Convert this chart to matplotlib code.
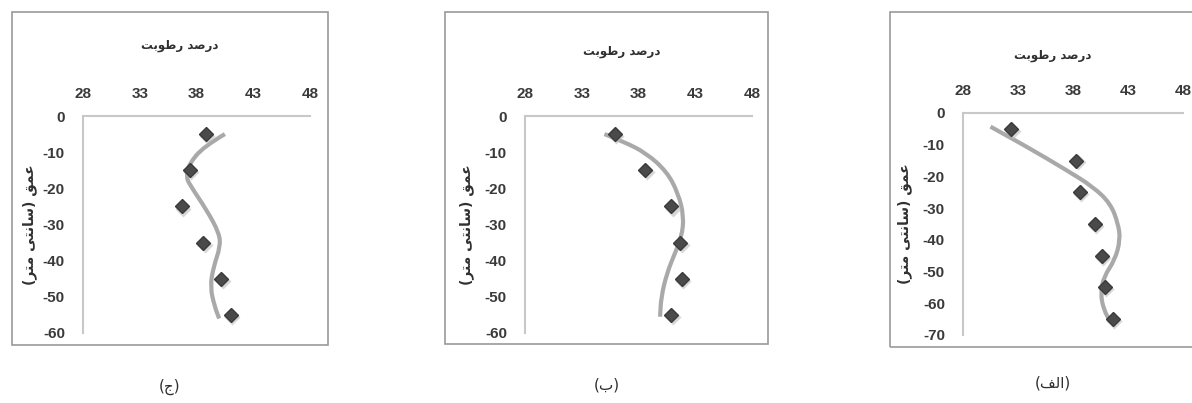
import matplotlib.pyplot as plt
from matplotlib.patches import Rectangle, PathPatch
from matplotlib.path import Path

plt.rcParams['axes.unicode_minus'] = False

# depth (cm) and moisture (%) for each panel
depth_j = [-5, -15, -25, -35, -45, -55]
moist_j = [38.8, 37.4, 36.7, 38.6, 40.2, 41.0]
curve_j_x = [40.5, 38.6, 37.3, 37.1, 37.4, 38.9, 40.0, 40.1, 39.5, 39.2, 39.6, 40.0]
curve_j_y = [-5.0, -8.5, -13.5, -16.8, -19.0, -26.0, -32.4, -36.1, -41.7, -47.2, -52.7, -56.0]

depth_b = [-5, -15, -25, -35, -45, -55]
moist_b = [35.9, 38.6, 40.9, 41.7, 41.8, 40.9]
curve_b_x = [35.0, 36.7, 38.7, 40.5, 41.5, 42.0, 41.8, 41.2, 40.5, 40.0, 39.9]
curve_b_y = [-5.0, -7.1, -10.3, -15.4, -21.4, -27.8, -33.4, -38.0, -43.5, -50.0, -55.5]

depth_a = [-5, -15, -25, -35, -45, -55, -65]
moist_a = [32.4, 38.3, 38.6, 40.0, 40.6, 40.9, 41.6]
curve_a_x = [30.5, 33.8, 37.4, 39.8, 41.4, 42.1, 42.3, 41.8, 40.8, 40.5, 40.8, 41.4]
curve_a_y = [-4.3, -10.6, -18.0, -23.2, -28.5, -34.8, -40.0, -46.4, -51.6, -56.9, -62.1, -65.8]

x_ticks = [28, 33, 38, 43, 48]

# Persian labels in presentation forms, visual order (no shaping engine available)
xlabel_fa = "\uFE96\uFE91\uFEEE\uFEC3\uFEAD \uFEAA\uFEBB\uFEAD\uFEA9"
ylabel_fa = "(\uFEAE\uFE98\uFEE3 \uFEF0\uFE98\uFEE7\uFE8E\uFEB3) \uFED6\uFEE4\uFECB"
cap_j = "(\uFE9D)"
cap_b = "(\uFE8F)"
cap_a = "(\uFED2\uFEDF\uFE8D)"

W, H = 1192, 403
fig = plt.figure(figsize=(W / 100, H / 100), dpi=100)
fig.patch.set_facecolor('white')

tick_font = dict(family='Liberation Sans', weight='bold', size=11)
fa_font = ['DejaVu Sans']
txt_col = '#3a3a3a'


def px_box(x0, y0, x1, y1):
    return [x0 / W, 1 - y1 / H, (x1 - x0) / W, (y1 - y0) / H]


def smooth_path(xs, ys):
    # quadratic bezier through midpoints, read points act as control points
    verts = [(xs[0], ys[0])]
    codes = [Path.MOVETO]
    for i in range(1, len(xs) - 1):
        verts.append((xs[i], ys[i]))
        verts.append(((xs[i] + xs[i + 1]) / 2, (ys[i] + ys[i + 1]) / 2))
        codes += [Path.CURVE3, Path.CURVE3]
    verts.append((xs[-1], ys[-1]))
    codes.append(Path.LINETO)
    return Path(verts, codes)


def panel(box, area, xs, ys, cx, cy, ymin, yticks, xlab_xy, ylab_x, cap, cap_y):
    b = px_box(*box)
    fig.patches.append(Rectangle((b[0], b[1]), b[2], b[3], transform=fig.transFigure,
                                 facecolor='none', edgecolor='#9a9a9a', lw=1.2, zorder=-1))
    ax = fig.add_axes(px_box(*area))
    ax.set_facecolor('none')
    ax.add_patch(PathPatch(smooth_path(cx, cy), fill=False, edgecolor='#a9a9a9', lw=3,
                           capstyle='butt', joinstyle='round', zorder=2, clip_on=False))
    # soft shadow then marker
    ax.plot([x + 0.12 for x in xs], [y - 0.6 for y in ys], ls='none', marker='D', ms=8,
            color='#bdbdbd', mec='none', alpha=0.6, zorder=2.5, clip_on=False)
    ax.plot(xs, ys, ls='none', marker='D', ms=7.5, color='#4a4a4a',
            mec='#3a3a3a', zorder=3, clip_on=False)
    ax.set_xlim(28, 48)
    ax.set_ylim(ymin, 0)
    ax.xaxis.tick_top()
    ax.set_xticks(x_ticks)
    ax.set_yticks(yticks)
    ax.tick_params(length=0, colors=txt_col)
    ax.tick_params(axis='x', pad=11)
    ax.tick_params(axis='y', pad=13)
    for lab in ax.get_xticklabels() + ax.get_yticklabels():
        lab.set_fontproperties(tick_font)
        lab.set_fontsize(11)
    for s in ['right', 'bottom']:
        ax.spines[s].set_visible(False)
    for s in ['top', 'left']:
        ax.spines[s].set_color('#c8c8c8')
        ax.spines[s].set_linewidth(1.5)
    fig.text(xlab_xy[0] / W, 1 - xlab_xy[1] / H, xlabel_fa, family=fa_font, weight='bold',
             size=8.5, color='#303030', ha='center', va='center')
    yc = 1 - (area[1] + area[3]) / 2 / H
    fig.text(ylab_x / W, yc, ylabel_fa, family=fa_font, weight='bold', size=10,
             color='#303030', ha='center', va='center', rotation=90)
    fig.text((box[0] + box[2]) / 2 / W, 1 - cap_y / H, cap, family=fa_font, size=11,
             color='#303030', ha='center', va='center')
    return ax


panel((12, 12, 328, 345), (83, 116, 310, 333), moist_j, depth_j, curve_j_x, curve_j_y,
      -60, list(range(0, -61, -10)), (180, 45), 30, cap_j, 387)
panel((445, 12, 768, 344), (525, 116, 752, 333), moist_b, depth_b, curve_b_x, curve_b_y,
      -60, list(range(0, -61, -10)), (622, 52), 467, cap_b, 385)
panel((890, 12, 1215, 347), (963, 113, 1183, 335), moist_a, depth_a, curve_a_x, curve_a_y,
      -70, list(range(0, -71, -10)), (1053, 55), 905, cap_a, 383)

fig.savefig('out.png', dpi=100)
